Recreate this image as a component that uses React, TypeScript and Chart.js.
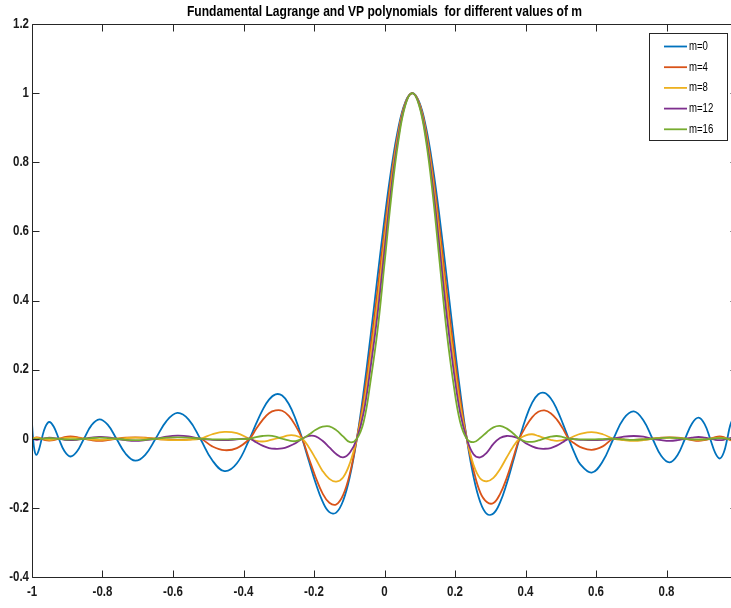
import React, { useEffect, useRef } from "react";
import { Chart, registerables } from "chart.js";

Chart.register(...registerables);

const titleText = "Fundamental Lagrange and VP polynomials  for different values of m";
const seriesLabels = ["m=0", "m=4", "m=8", "m=12", "m=16"];
const seriesColors = ["#0072BD", "#D95319", "#EDB120", "#7E2F8E", "#77AC30"];
const xTickValues = [-1, -0.8, -0.6, -0.4, -0.2, 0, 0.2, 0.4, 0.6, 0.8, 1];
const yTickValues = [-0.4, -0.2, 0, 0.2, 0.4, 0.6, 0.8, 1, 1.2];

const xs = [
  -1, -0.99923, -0.99692, -0.99307, -0.98769, -0.98079, -0.97237, -0.96246, -0.95106, -0.93819,
  -0.92388, -0.90814, -0.89101, -0.8725, -0.85264, -0.83147, -0.80902, -0.78531, -0.76041, -0.73432,
  -0.70711, -0.6788, -0.64945, -0.61909, -0.58779, -0.55557, -0.5225, -0.48862, -0.45399, -0.41866,
  -0.38268, -0.36447, -0.34612, -0.32763, -0.30902, -0.29029, -0.27144, -0.25249, -0.23345, -0.21431,
  -0.19509, -0.1758, -0.15643, -0.13701, -0.11754, -0.09802, -0.07846, -0.05887, -0.03926, -0.01963,
  0, 0.01963, 0.03926, 0.05887, 0.07846, 0.09802, 0.11754, 0.13701, 0.15643, 0.1758,
  0.19509, 0.21431, 0.23345, 0.25249, 0.27144, 0.29029, 0.30902, 0.32763, 0.34612, 0.36447,
  0.38268, 0.40075, 0.41866, 0.43641, 0.45399, 0.4714, 0.48862, 0.50566, 0.5225, 0.53914,
  0.55557, 0.58779, 0.61909, 0.64945, 0.6788, 0.70711, 0.73432, 0.76041, 0.78531, 0.80902,
  0.83147, 0.85264, 0.8725, 0.89101, 0.90814, 0.92388, 0.93819, 0.95106, 0.96246, 0.97237,
  0.98079, 0.98769, 0.99307, 0.99692, 0.99923, 1,
];

const m0 = [
  0.0462, 0.0327, 0, -0.0329, -0.0468, -0.0333, 0, 0.0339, 0.0484, 0.0347,
  0, -0.0357, -0.0514, -0.0371, 0, 0.0387, 0.0562, 0.0408, 0, -0.0434,
  -0.0635, -0.0465, 0, 0.0505, 0.0748, 0.0556, 0, -0.0622, -0.0936, -0.0709,
  0, 0.0431, 0.083, 0.1134, 0.1286, 0.1249, 0.1007, 0.0576, 0, -0.0652,
  -0.1289, -0.1811, -0.2122, -0.2137, -0.1798, -0.1081, 0, 0.1389, 0.2994, 0.4695,
  0.6353, 0.7828, 0.8991, 0.9737, 1, 0.9752, 0.9019, 0.7865, 0.6393, 0.4731,
  0.3022, 0.1404, 0, -0.1096, -0.1826, -0.2174, -0.2162, -0.1848, -0.1317, -0.0667,
  0, 0.0592, 0.1036, 0.1287, 0.1327, 0.1172, 0.0859, 0.0447, 0, -0.0414,
  -0.0739, -0.0979, -0.0652, 0, 0.0587, 0.0793, 0.0537, 0, -0.0499, -0.0682,
  -0.0468, 0, 0.0444, 0.0614, 0.0425, 0, -0.041, -0.0571, -0.0399, 0,
  0.0391, 0.0548, 0.0385, 0, -0.0383, -0.0541,
];

const m4 = [
  -0.003, -0.002, 0, 0.003, 0.004, 0.003, 0, -0.004, -0.005, -0.004,
  0, 0.005, 0.007, 0.005, 0, -0.004, -0.006, -0.004, 0, 0.003,
  0.004, 0.003, 0, -0.002, -0.003, -0.002, 0, -0.022, -0.033, -0.027,
  0, 0.028, 0.054, 0.074, 0.082, 0.081, 0.066, 0.038, 0, -0.057,
  -0.112, -0.158, -0.185, -0.19, -0.163, -0.1, 0, 0.117, 0.266, 0.431,
  0.603, 0.763, 0.889, 0.971, 1, 0.9727, 0.8924, 0.7665, 0.607, 0.434,
  0.268, 0.118, 0, -0.09, -0.155, -0.183, -0.186, -0.16, -0.115, -0.058,
  0, 0.035, 0.062, 0.078, 0.082, 0.074, 0.056, 0.03, 0, -0.014,
  -0.024, -0.032, -0.022, 0, -0.002, -0.003, -0.002, 0, 0.003, 0.004,
  0.003, 0, -0.004, -0.006, -0.004, 0, 0.005, 0.007, 0.005, 0,
  -0.004, -0.005, -0.004, 0, 0.002, 0.003,
];

const m8 = [
  -0.002, -0.001, 0, 0.002, 0.003, 0.002, 0, -0.002, -0.003, -0.002,
  0, 0.002, 0.003, 0.002, 0, -0.002, -0.003, -0.002, 0, 0.002,
  0.003, 0.002, 0, -0.003, -0.004, -0.003, 0, 0.013, 0.02, 0.016,
  0, -0.006, -0.008, -0.005, 0, 0.005, 0.01, 0.009, 0, -0.025,
  -0.058, -0.093, -0.116, -0.124, -0.112, -0.07, 0, 0.097, 0.238, 0.397,
  0.575, 0.745, 0.881, 0.969, 1, 0.9705, 0.884, 0.749, 0.579, 0.399,
  0.237, 0.098, 0, -0.075, -0.115, -0.123, -0.113, -0.088, -0.055, -0.024,
  0, 0.01, 0.013, 0.008, 0.002, -0.003, -0.006, -0.004, 0, 0.008,
  0.014, 0.019, 0.013, 0, -0.004, -0.006, -0.004, 0, 0.002, 0.003,
  0.002, 0, -0.002, -0.003, -0.002, 0, 0.002, 0.003, 0.002, 0,
  -0.002, -0.003, -0.002, 0, 0.001, 0.002,
];

const m12 = [
  0.002, 0.001, 0, -0.002, -0.003, -0.002, 0, 0.002, 0.003, 0.002,
  0, -0.003, -0.004, -0.003, 0, 0.003, 0.005, 0.004, 0, -0.004,
  -0.006, -0.004, 0, 0.006, 0.009, 0.007, 0, -0.003, -0.004, -0.002,
  0, -0.01, -0.02, -0.027, -0.029, -0.028, -0.022, -0.013, 0, 0.008,
  0.007, -0.006, -0.025, -0.044, -0.054, -0.04, 0, 0.077, 0.208, 0.361,
  0.545, 0.727, 0.872, 0.967, 1, 0.968, 0.875, 0.73, 0.55, 0.363,
  0.206, 0.077, 0, -0.045, -0.054, -0.04, -0.015, 0.002, 0.008, 0.006,
  0, -0.013, -0.022, -0.028, -0.029, -0.027, -0.02, -0.01, 0, -0.002,
  -0.003, -0.004, -0.003, 0, 0.006, 0.008, 0.006, 0, -0.004, -0.006,
  -0.004, 0, 0.003, 0.005, 0.003, 0, -0.003, -0.004, -0.003, 0,
  0.002, 0.003, 0.002, 0, -0.001, -0.002,
];

const m16 = [
  0, 0, 0, -0.001, -0.001, -0.001, 0, 0.001, 0.002, 0.001,
  0, -0.002, -0.002, -0.002, 0, 0.002, 0.003, 0.002, 0, -0.003,
  -0.004, -0.003, 0, 0.003, 0.004, 0.003, 0, -0.002, -0.002, -0.001,
  0, 0.005, 0.008, 0.009, 0.006, 0, -0.005, -0.007, 0, 0.012,
  0.026, 0.035, 0.036, 0.025, 0.007, -0.01, 0, 0.05, 0.169, 0.315,
  0.507, 0.703, 0.861, 0.964, 1, 0.965, 0.864, 0.7065, 0.511, 0.316,
  0.164, 0.05, 0, -0.01, 0.002, 0.019, 0.033, 0.037, 0.03, 0.016,
  0, -0.008, -0.009, -0.005, 0.001, 0.006, 0.008, 0.005, 0, -0.001,
  -0.002, -0.002, -0.001, 0, -0.002, -0.003, -0.002, 0, 0.002, 0.003,
  0.002, 0, -0.002, -0.002, -0.002, 0, 0.001, 0.002, 0.001, 0,
  -0.001, -0.001, -0.001, 0, 0, 0,
];

const seriesValues = [m0, m4, m8, m12, m16];

const FONT = "'Liberation Sans', Arial, Helvetica, sans-serif";
const AXIS_COLOR = "#262626";
const NARROW = 0.82;

const fmt = (v: number) => String(Math.round(v * 10) / 10);

function narrowText(
  ctx: CanvasRenderingContext2D,
  text: string,
  x: number,
  y: number,
  align: CanvasTextAlign,
  sx: number
) {
  ctx.save();
  ctx.translate(x, y);
  ctx.scale(sx, 1);
  ctx.textAlign = align;
  ctx.textBaseline = "middle";
  ctx.fillText(text, 0, 0);
  ctx.restore();
}

const framePlugin = {
  id: "matlabFrame",
  afterDatasetsDraw(chart: any) {
    const { ctx, chartArea: a, scales } = chart;
    ctx.save();
    ctx.strokeStyle = AXIS_COLOR;
    ctx.lineWidth = 1;
    const L = Math.round(a.left) + 0.5;
    const R = Math.round(a.right) + 0.5;
    const T = Math.round(a.top) + 0.5;
    const B = Math.round(a.bottom) + 0.5;
    ctx.beginPath();
    ctx.rect(L, T, R - L, B - T);
    const tick = 7;
    for (const v of xTickValues) {
      const px = Math.round(scales.x.getPixelForValue(v)) + 0.5;
      ctx.moveTo(px, B);
      ctx.lineTo(px, B - tick);
      ctx.moveTo(px, T);
      ctx.lineTo(px, T + tick);
    }
    for (const v of yTickValues) {
      const py = Math.round(scales.y.getPixelForValue(v)) + 0.5;
      ctx.moveTo(L, py);
      ctx.lineTo(L + tick, py);
      ctx.moveTo(R, py);
      ctx.lineTo(R - tick, py);
    }
    ctx.stroke();

    // tick labels
    ctx.fillStyle = "#1a1a1a";
    ctx.font = `bold 14px ${FONT}`;
    for (const v of yTickValues) {
      const py = scales.y.getPixelForValue(v);
      narrowText(ctx, fmt(v), a.left - 3, py, "right", NARROW);
    }
    for (const v of xTickValues) {
      const px = scales.x.getPixelForValue(v);
      if (px > 726) continue;
      narrowText(ctx, fmt(v), px, a.bottom + 15, "center", NARROW);
    }

    // title
    ctx.fillStyle = "#000";
    ctx.font = `bold 14px ${FONT}`;
    const tw = ctx.measureText(titleText).width;
    narrowText(ctx, titleText, (a.left + a.right) / 2, 12, "center", 395 / tw);

    // legend
    const lx = 649.5, ly = 33.5, lw = 78, lh = 107;
    ctx.fillStyle = "#fff";
    ctx.fillRect(lx, ly, lw, lh);
    ctx.strokeStyle = AXIS_COLOR;
    ctx.lineWidth = 1;
    ctx.strokeRect(lx, ly, lw, lh);
    ctx.font = `12px ${FONT}`;
    seriesLabels.forEach((lab, i) => {
      const y = 46.5 + i * 20.7;
      ctx.strokeStyle = seriesColors[i];
      ctx.lineWidth = 1.8;
      ctx.beginPath();
      ctx.moveTo(664, y);
      ctx.lineTo(687, y);
      ctx.stroke();
      ctx.fillStyle = "#000";
      narrowText(ctx, lab, 689, y, "left", 0.8);
    });
    ctx.restore();
  },
};

export default function App() {
  const canvasRef = useRef<HTMLCanvasElement | null>(null);

  useEffect(() => {
    const canvas = canvasRef.current;
    if (!canvas) return;
    const datasets = seriesValues.map((vals, i) => ({
      label: seriesLabels[i],
      data: xs.map((x, k) => ({ x, y: vals[k] })),
      borderColor: seriesColors[i],
      backgroundColor: seriesColors[i],
      borderWidth: 1.8,
      pointRadius: 0,
      fill: false,
      tension: 0.4,
      order: seriesValues.length - 1 - i,
    }));
    const chart = new Chart(canvas, {
      type: "line",
      data: { datasets },
      options: {
        responsive: false,
        animation: false,
        devicePixelRatio: 1,
        events: [],
        layout: { padding: { top: 24, right: 8, left: 0, bottom: 0 } },
        plugins: {
          legend: { display: false },
          title: { display: false },
          tooltip: { enabled: false },
        },
        scales: {
          x: {
            type: "linear",
            min: -1,
            max: 1,
            grid: { display: false, drawTicks: false },
            border: { display: false },
            ticks: { display: false, stepSize: 0.2 },
            afterFit: (s: any) => {
              s.height = 31;
            },
          },
          y: {
            type: "linear",
            min: -0.4,
            max: 1.2,
            grid: { display: false, drawTicks: false },
            border: { display: false },
            ticks: { display: false, stepSize: 0.2 },
            afterFit: (s: any) => {
              s.width = 32;
            },
          },
        },
      },
      plugins: [framePlugin],
    });
    return () => chart.destroy();
  }, []);

  return (
    <div
      style={{
        position: "absolute",
        left: 0,
        top: 0,
        width: 731,
        height: 608,
        overflow: "hidden",
        background: "#fff",
      }}
    >
      <canvas ref={canvasRef} width={745} height={608} style={{ display: "block" }} />
    </div>
  );
}
